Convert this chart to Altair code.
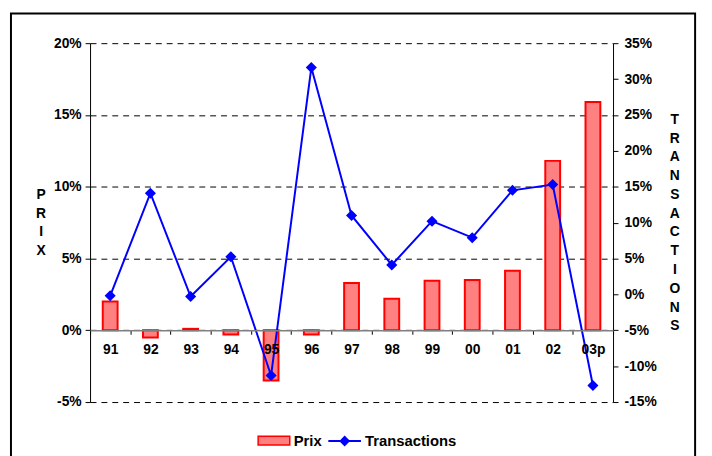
import altair as alt
import pandas as pd

years = ["91", "92", "93", "94", "95", "96", "97", "98", "99", "00", "01", "02", "03p"]
prix = [2.0, -0.5, 0.1, -0.3, -3.5, -0.3, 3.3, 2.2, 3.45, 3.5, 4.15, 11.8, 15.9]
transactions = [-0.2, 14.1, -0.3, 5.25, -11.3, 31.6, 11.0, 4.1, 10.2, 7.9, 14.5, 15.3, -12.7]

df = pd.DataFrame({"year": years, "prix": prix, "trans": transactions,
                   "s1": "Prix", "s2": "Transactions"})

FONT = "Liberation Sans"
FS = 14
W, H = 529, 363
zero_offset = -(H - H * 20 / 25)

base = alt.Chart(df)

x_enc = alt.X("year:N", sort=years, title=None,
              scale=alt.Scale(paddingInner=0, paddingOuter=0),
              axis=alt.Axis(orient="bottom", offset=zero_offset, labelAngle=0,
                            labelFont=FONT, labelFontWeight="bold", labelFontSize=FS,
                            labelColor="black", labelPadding=8,
                            domainColor="#808080", domainWidth=1.5,
                            tickBand="extent", tickColor="black", tickSize=4,
                            grid=False, zindex=1))

bars = base.mark_bar(size=15, stroke="#ff0000", strokeWidth=2).encode(
    x=x_enc,
    y=alt.Y("prix:Q", scale=alt.Scale(domain=[-5, 20], nice=False),
            axis=alt.Axis(orient="left", values=[-5, 0, 5, 10, 15, 20],
                          labelExpr="datum.value + '%'",
                          labelFont=FONT, labelFontWeight="bold", labelFontSize=FS,
                          labelColor="black", labelPadding=4,
                          tickSize=5, tickColor="black", domainColor="black",
                          grid=True, gridColor="black", gridDash=[6, 5], gridWidth=1,
                          title=["P", "R", "I", "X"], titleAngle=0,
                          titleFont=FONT, titleFontWeight="bold", titleFontSize=FS,
                          titleColor="black", titleLineHeight=19,
                          titleAlign="center", titleBaseline="alphabetic",
                          titleX=-50, titleY=157)),
    fill=alt.Fill("s1:N", scale=alt.Scale(domain=["Prix"], range=["#ff8080"]),
                  legend=alt.Legend(title=None, orient="none", legendX=169, legendY=385,
                                    symbolType="M-1,-0.28H1V0.28H-1Z", symbolSize=1024,
                                    symbolStrokeColor="#ff0000", symbolStrokeWidth=1.5,
                                    labelFont=FONT, labelFontWeight="bold", labelFontSize=15,
                                    labelColor="black", labelOffset=3, padding=0))
)

line = base.mark_line(
    strokeWidth=2,
    point=alt.OverlayMarkDef(shape="diamond", filled=True, size=70, color="#0000ff", opacity=1)
).encode(
    x=alt.X("year:N", sort=years),
    y=alt.Y("trans:Q", scale=alt.Scale(domain=[-15, 35], nice=False),
            axis=alt.Axis(orient="right", values=list(range(-15, 40, 5)),
                          labelExpr="datum.value + '%'",
                          labelFont=FONT, labelFontWeight="bold", labelFontSize=FS,
                          labelColor="black", labelPadding=6,
                          tickSize=5, tickColor="black", domainColor="black",
                          grid=False,
                          title=list("TRANSACTIONS"), titleAngle=0,
                          titleFont=FONT, titleFontWeight="bold", titleFontSize=FS,
                          titleColor="black", titleLineHeight=19,
                          titleAlign="center", titleBaseline="alphabetic",
                          titleX=62, titleY=81)),
    stroke=alt.Stroke("s2:N", scale=alt.Scale(domain=["Transactions"], range=["#0000ff"]),
                      legend=alt.Legend(title=None, orient="none", legendX=240, legendY=385,
                                        symbolType="M-1,0H1M-0.25,0L0,-0.25L0.25,0L0,0.25Z",
                                        symbolSize=1089, symbolStrokeWidth=2,
                                        symbolFillColor="#0000ff",
                                        labelFont=FONT, labelFontWeight="bold", labelFontSize=15,
                                        labelColor="black", labelOffset=3, padding=0))
)

frame = alt.Chart(pd.DataFrame({"a": [0]})).mark_rect(
    fill=None, stroke="black", strokeWidth=2, clip=False
).encode(x=alt.value(-80), x2=alt.value(612), y=alt.value(-30), y2=alt.value(440))

chart = alt.layer(
    bars, line, frame
).resolve_scale(y="independent", fill="independent", stroke="independent").properties(
    width=W, height=H,
    autosize=alt.AutoSizeParams(type="none"),
    padding={"left": 83, "top": 33, "right": 92, "bottom": 52},
    background="white"
).configure_view(stroke=None)

chart.save("out.html", embed_options={"renderer": "svg", "actions": False})
